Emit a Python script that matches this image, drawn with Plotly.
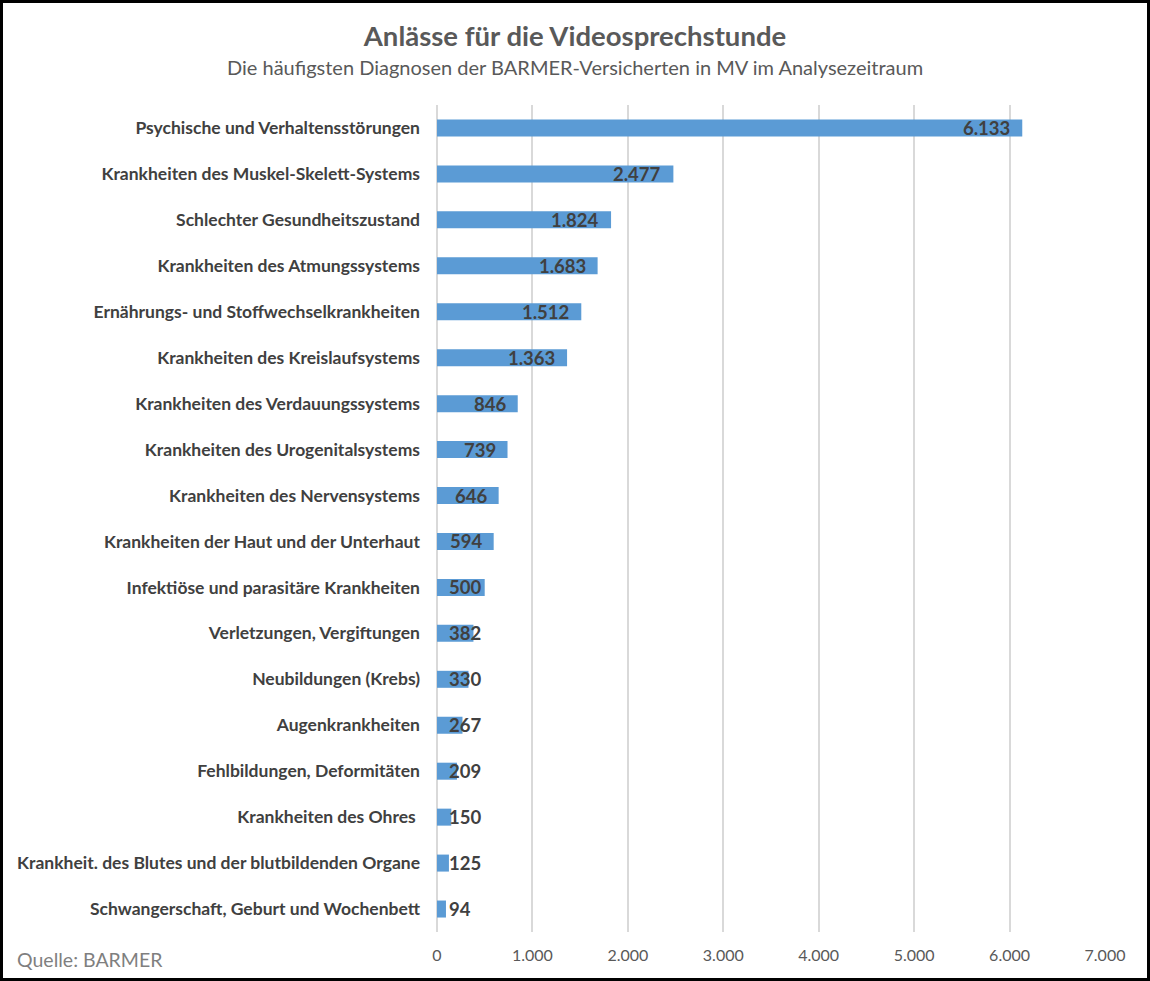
import plotly.graph_objects as go

# Daten
diagnosen = [
    "Psychische und Verhaltensstörungen",
    "Krankheiten des Muskel-Skelett-Systems",
    "Schlechter Gesundheitszustand",
    "Krankheiten des Atmungssystems",
    "Ernährungs- und Stoffwechselkrankheiten",
    "Krankheiten des Kreislaufsystems",
    "Krankheiten des Verdauungssystems",
    "Krankheiten des Urogenitalsystems",
    "Krankheiten des Nervensystems",
    "Krankheiten der Haut und der Unterhaut",
    "Infektiöse und parasitäre Krankheiten",
    "Verletzungen, Vergiftungen",
    "Neubildungen (Krebs)",
    "Augenkrankheiten",
    "Fehlbildungen, Deformitäten",
    "Krankheiten des Ohres ",
    "Krankheit. des Blutes und der blutbildenden Organe",
    "Schwangerschaft, Geburt und Wochenbett",
]
anzahl = [6133, 2477, 1824, 1683, 1512, 1363, 846, 739, 646, 594, 500, 382, 330, 267, 209, 150, 125, 94]
tickwerte = [0, 1000, 2000, 3000, 4000, 5000, 6000, 7000]
ticktexte = ["0", "1.000", "2.000", "3.000", "4.000", "5.000", "6.000", "7.000"]


def de(n):
    return f"{n:,}".replace(",", ".")


FONT = "Lato"
GRAU = "#595959"
DUNKEL = "#404040"

# Ränder
ml, mr, mt, mb = 437, 45, 105, 49
W, H = 1150, 981
pw, ph = W - ml - mr, H - mt - mb

fig = go.Figure()
fig.add_trace(
    go.Bar(
        x = anzahl,
        y = diagnosen,
        orientation = "h",
        marker_color = "#5B9BD5",
        marker_line_width = 0,
        hoverinfo = "x+y",
        showlegend = False
    )
)

# Datenbeschriftungen (innen am Ende, bei kurzen Balken links)
for d, n in zip(diagnosen, anzahl):
    if n >= 550:
        fig.add_annotation(x = n, y = d, text = f"<b>{de(n)}</b>", showarrow = False,
                           xanchor = "right", xshift = -10, yshift = 0,
                           font = dict(family = FONT, size = 18.5, color = DUNKEL))
    else:
        fig.add_annotation(x = 0, y = d, text = f"<b>{de(n)}</b>", showarrow = False,
                           xanchor = "left", xshift = 10, yshift = 0,
                           font = dict(family = FONT, size = 18.5, color = DUNKEL))

fig.add_annotation(
    text = "Quelle: BARMER", xref = "paper", yref = "paper",
    x = -(ml - 15) / pw, y = -(27) / ph, xanchor = "left", yanchor = "middle",
    showarrow = False, font = dict(family = FONT, size = 19.5, color = "#7f7f7f")
)
fig.add_annotation(
    text = "Die häufigsten Diagnosen der BARMER-Versicherten in MV im Analysezeitraum",
    xref = "paper", yref = "paper", x = (W / 2 - ml) / pw, y = 1 + (mt - 67) / ph,
    xanchor = "center", yanchor = "middle", showarrow = False,
    font = dict(family = FONT, size = 20, color = GRAU)
)

# Rahmen
fig.add_shape(type = "rect", xref = "paper", yref = "paper",
              x0 = -(ml - 1.5) / pw, x1 = 1 + (mr - 1.5) / pw,
              y0 = -(mb - 1.5) / ph, y1 = 1 + (mt - 1.5) / ph,
              line = dict(color = "black", width = 3), layer = "below")

fig.update_layout(
    width = W,
    height = H,
    margin = dict(l = ml, r = mr, t = mt, b = mb),
    paper_bgcolor = "white",
    plot_bgcolor = "white",
    bargap = 0.63,
    title = dict(
        text = "<b>Anlässe für die Videosprechstunde</b>",
        x = 0.5, xref = "container", xanchor = "center",
        y = 1 - 36 / H, yanchor = "middle",
        font = dict(family = FONT, size = 27.5, color = GRAU)
    ),
    xaxis = dict(
        range = [0, 7000],
        tickvals = tickwerte,
        ticktext = ticktexte,
        showgrid = True,
        gridcolor = "#d9d9d9",
        gridwidth = 2,
        zeroline = True,
        zerolinecolor = "#d9d9d9",
        zerolinewidth = 2,
        ticks = "",
        ticklabelstandoff = 12,
        tickfont = dict(family = FONT, size = 16, color = GRAU),
        fixedrange = True
    ),
    yaxis = dict(
        categoryorder = "array",
        categoryarray = diagnosen[::-1],
        ticks = "",
        ticklabelstandoff = 16,
        tickfont = dict(family = FONT, size = 17.5, color = DUNKEL, weight = "bold"),
        showgrid = False,
        fixedrange = True
    ),
    font = dict(family = FONT)
)

fig.write_html(
    "out.html",
    config = {"displayModeBar": False},
    post_script = "document.body.style.margin = '0';"
)
